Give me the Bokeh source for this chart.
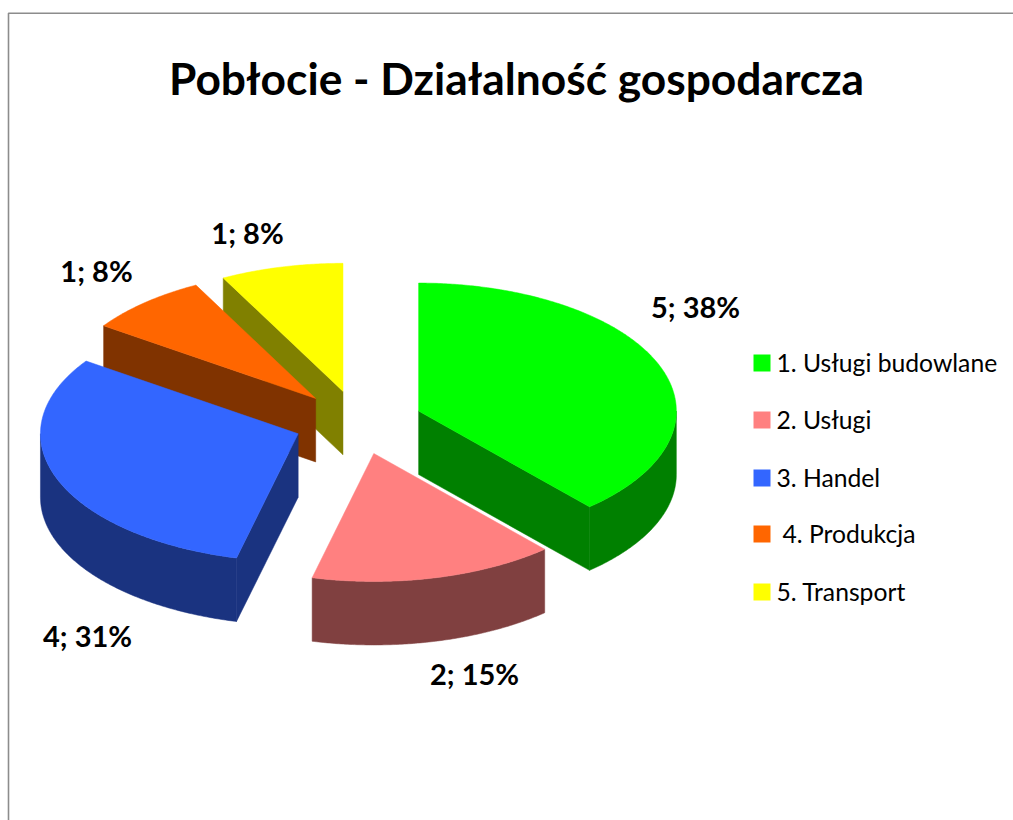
import math
from bokeh.plotting import figure
from bokeh.models import Range1d
from bokeh.core.properties import value
from bokeh.embed import file_html
from bokeh.resources import INLINE

# ---- data ----
categories = ["1. Usługi budowlane", "2. Usługi", "3. Handel", " 4. Produkcja", "5. Transport"]
counts = [5, 2, 4, 1, 1]
title_text = "Pobłocie - Działalność gospodarcza"

# ---- styles ----
top_colors = ["#00FF00", "#FF8080", "#3366FF", "#FF6600", "#FFFF00"]
side_colors = ["#008000", "#804040", "#1A3380", "#803300", "#808000"]
FONT = "Lato"

# ---- layout (page pixels) ----
CX, CY, RX, RY, DEPTH, EXPLODE = 357.9, 421.9, 257.7, 128.0, 63.5, 0.25
label_pos = [(695, 306), (474, 673), (87, 635), (96, 270), (247, 232)]
legend_y = [362.5, 419.5, 477.5, 533.5, 591.5]

W, H = 1013, 820
p = figure(width=W, height=H, x_range=Range1d(0, W), y_range=Range1d(H, 0),
           toolbar_location=None, output_backend="svg",
           x_axis_location=None, y_axis_location=None, min_border=0)
p.grid.visible = False
p.outline_line_color = None

# chart frame
p.line([8, 8, W], [H, 12.7, 12.7], line_color="#8c8c8c", line_width=1.6)

total = sum(counts)
starts, acc = [], 0
for c in counts:
    starts.append(acc)
    acc += c


def pt(ax, ay, deg):
    t = math.radians(deg)
    return ax + RX * math.sin(t), ay - RY * math.cos(t)


def arc(ax, ay, d0, d1):
    n = max(2, int(abs(d1 - d0) * 2))
    return [pt(ax, ay, d0 + (d1 - d0) * i / n) for i in range(n + 1)]


slices = []
for i, (s, c) in enumerate(zip(starts, counts)):
    a0, a1 = 360 * s / total, 360 * (s + c) / total
    mid = math.radians((a0 + a1) / 2)
    ax = CX + EXPLODE * RX * math.sin(mid)
    ay = CY - EXPLODE * RY * math.cos(mid)
    slices.append((i, a0, a1, ax, ay))

# paint from back to front
for i, a0, a1, ax, ay in sorted(slices, key=lambda s: s[4]):
    side, top = side_colors[i], top_colors[i]
    e0, e1 = pt(ax, ay, a0), pt(ax, ay, a1)
    # flat walls, only those that face the viewer
    for a, b in (((ax, ay), e0), (e1, (ax, ay))):
        if b[0] - a[0] < -1e-6:
            p.patch([a[0], b[0], b[0], a[0]], [a[1], b[1], b[1] + DEPTH, a[1] + DEPTH],
                    fill_color=side, line_color=side, line_width=0.5)
    # outer rim on the front half
    r0, r1 = max(a0, 90), min(a1, 270)
    if r1 > r0:
        rim = arc(ax, ay, r0, r1)
        xs = [q[0] for q in rim] + [q[0] for q in reversed(rim)]
        ys = [q[1] for q in rim] + [q[1] + DEPTH for q in reversed(rim)]
        p.patch(xs, ys, fill_color=side, line_color=side, line_width=0.5)
    # top face
    outline = arc(ax, ay, a0, a1)
    p.patch([ax] + [q[0] for q in outline], [ay] + [q[1] for q in outline],
            fill_color=top, line_color=top, line_width=0.5)

# data labels
for c, (lx, ly) in zip(counts, label_pos):
    p.text([lx], [ly], text=[f"{c}; {round(100 * c / total)}%"], text_font=value(FONT),
           text_font_style="bold", text_font_size="29px", text_align="center",
           text_baseline="middle", text_color="#000000")

# legend
for name, col, ly in zip(categories, top_colors, legend_y):
    p.rect([761.5], [ly], width=17, height=17, fill_color=col, line_color=None)
    lead = 6 if name.startswith(" ") else 0
    p.text([776 + lead], [ly - 1.0], text=[name.strip()], text_font=value(FONT), text_font_size="24.7px",
           text_align="left", text_baseline="middle", text_color="#000000")

# title
p.text([516], [77], text=[title_text], text_font=value(FONT), text_font_style="bold",
       text_font_size="44.3px", text_align="center", text_baseline="middle", text_color="#000000")

open("out.html", "w").write(file_html(p, INLINE))
